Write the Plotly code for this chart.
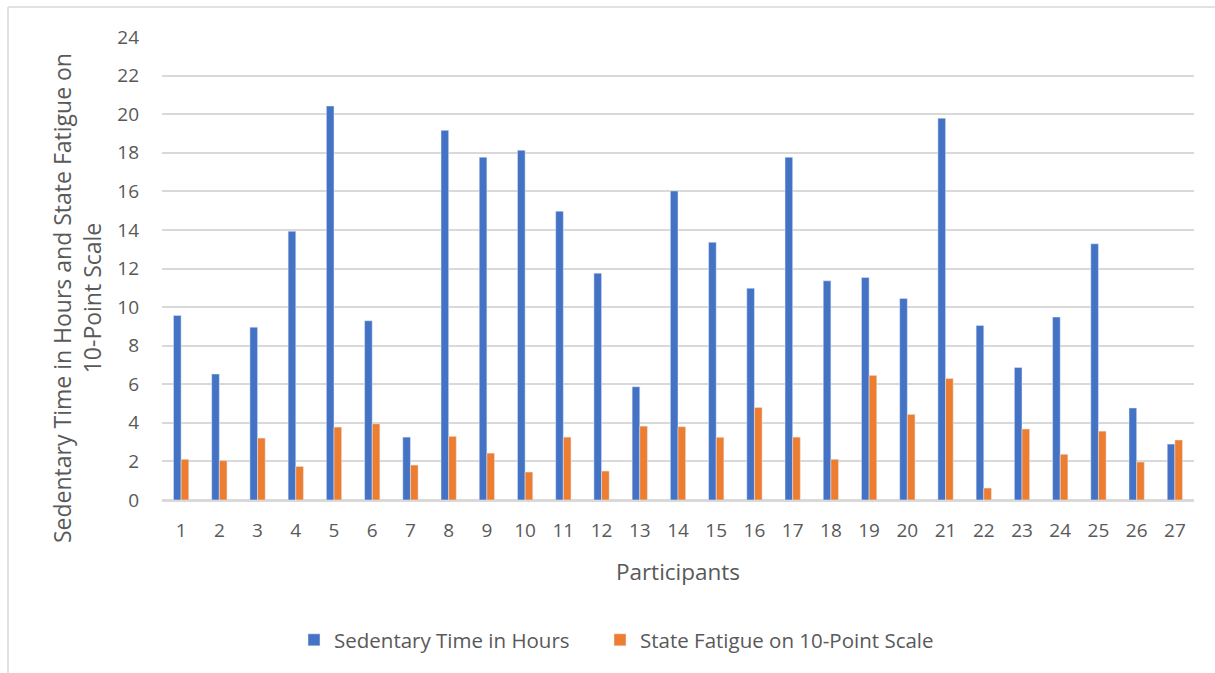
import plotly.graph_objects as go

participants = [str(i) for i in range(1, 28)]
sedentary_hours = [9.57, 6.53, 8.96, 13.93, 20.42, 9.29, 3.26, 19.16, 17.77,
                   18.13, 14.97, 11.76, 5.87, 16.02, 13.36, 10.98, 17.77, 11.36,
                   11.53, 10.45, 19.79, 9.05, 6.87, 9.48, 13.28, 4.77, 2.90]
state_fatigue = [2.11, 2.04, 3.21, 1.74, 3.78, 3.95, 1.81, 3.30, 2.43,
                 1.45, 3.26, 1.50, 3.83, 3.80, 3.25, 4.80, 3.26, 2.11,
                 6.46, 4.44, 6.30, 0.62, 3.68, 2.37, 3.57, 1.97, 3.11]
y_ticks = list(range(0, 25, 2))

FONT = "Open Sans"
GREY = "#595959"
W, H = 1215, 673
L, R, T, B = 162, 21, 37, 173
pw, ph = W - L - R, H - T - B

def px(x):
    return (x - L) / pw

def py(y):
    return (H - B - y) / ph

fig = go.Figure()
fig.add_trace(go.Bar(x=participants, y=sedentary_hours, name="Sedentary Time in Hours",
                     marker=dict(color="#4472C4"), legend="legend"))
fig.add_trace(go.Bar(x=participants, y=state_fatigue, name="State Fatigue on 10-Point Scale",
                     marker=dict(color="#ED7D31"), legend="legend2"))

legend_font = dict(family=FONT, size=20.5, color=GREY)
fig.update_layout(
    width=W, height=H,
    margin=dict(l=L, r=R, t=T, b=B, autoexpand=False),
    paper_bgcolor="white", plot_bgcolor="white",
    barmode="group", bargap=0.6, bargroupgap=0,
    font=dict(family=FONT, size=19, color=GREY),
    showlegend=True,
    legend=dict(orientation="h", x=px(294), xanchor="left", y=py(640), yanchor="middle",
                font=legend_font),
    legend2=dict(orientation="h", x=px(600), xanchor="left", y=py(640), yanchor="middle",
                 font=legend_font),
    shapes=[
        dict(type="line", xref="paper", yref="paper", x0=px(8), x1=px(8), y0=py(7), y1=py(673),
             line=dict(color="#d9d9d9", width=1.5)),
        dict(type="line", xref="paper", yref="paper", x0=px(8), x1=px(1215), y0=py(7), y1=py(7),
             line=dict(color="#d9d9d9", width=1.5)),
    ],
    annotations=[
        dict(text="Sedentary Time in Hours and State Fatigue on<br>10-Point Scale",
             xref="paper", yref="paper", x=px(77), y=py(298), xanchor="center", yanchor="middle",
             textangle=-90, showarrow=False, font=dict(family=FONT, size=23, color=GREY)),
    ],
)
fig.update_xaxes(
    type="category", showgrid=False, showline=True, linecolor="#d9d9d9", linewidth=1.5,
    ticks="", tickfont=dict(family=FONT, size=19, color=GREY), ticklabelstandoff=12,
    title=dict(text="Participants", font=dict(family=FONT, size=22.5, color=GREY), standoff=23),
)
fig.update_yaxes(
    range=[0, 24], tickvals=y_ticks, showgrid=True, gridcolor="#d9d9d9", gridwidth=1.5,
    zeroline=True, zerolinecolor="#d9d9d9", zerolinewidth=1.5, showline=False,
    ticks="", tickfont=dict(family=FONT, size=19, color=GREY), ticklabelstandoff=22,
)

fig.write_html("out.html")
